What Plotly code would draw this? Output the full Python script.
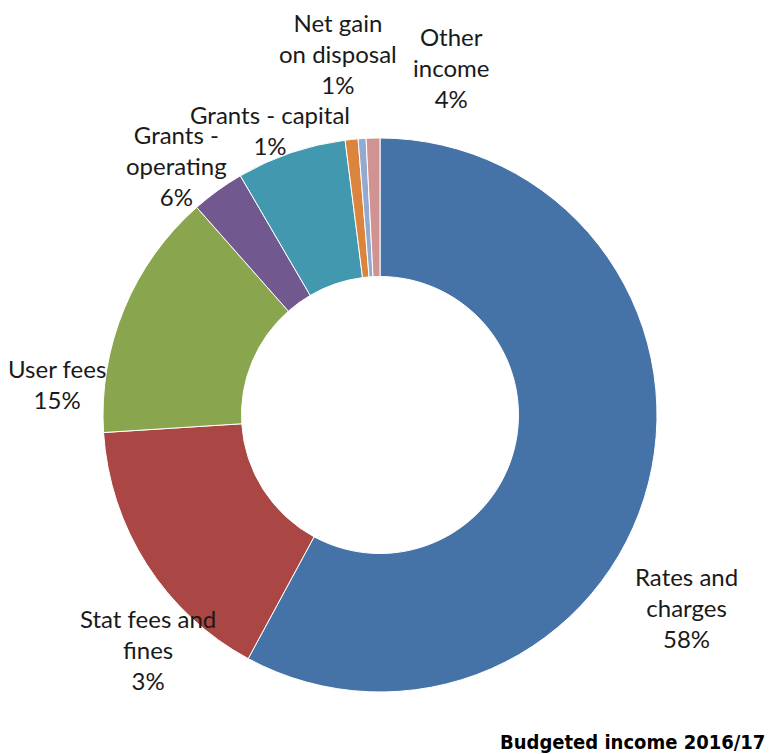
import plotly.graph_objects as go

W, H = 772, 754

# Slice data (clockwise from 12 o'clock) (%)
categories = ["Rates and charges", "Stat fees and fines", "User fees", "Grants - operating",
              "Grants - capital", "Net gain on disposal", "Other", "Other income"]
values = [57.9, 16.1, 14.5, 3.1, 6.4, 0.75, 0.46, 0.8]
colors = ["#4572A7", "#AA4643", "#89A54E", "#71588F", "#4198AF", "#DB843D", "#93A9CF", "#D19392"]

# Data labels as displayed in the reference
label_texts = ["Rates and<br>charges<br>58%", "Stat fees and<br>fines<br>3%", "User fees<br>15%",
               "Grants -<br>operating<br>6%", "Grants - capital<br>1%",
               "Net gain<br>on disposal<br>1%", "Other<br>income<br>4%"]
# label centres in pixels (x, y from top)
label_pos = [(686, 607), (148, 649), (57, 384), (176, 165), (270, 130), (338, 54), (451, 67)]

title_text = "<b>Budgeted income 2016/17</b>"

cx, cy, r = 380, 415, 277

fig = go.Figure(go.Pie(
    labels=categories, values=values, sort=False, direction="clockwise", rotation=0,
    hole=0.5, textinfo="none", hoverinfo="label+percent",
    marker=dict(colors=colors, line=dict(color="white", width=1)),
    domain=dict(x=[(cx - r) / W, (cx + r) / W], y=[(H - cy - r) / H, (H - cy + r) / H]),
    showlegend=False,
))

for t, (px, py) in zip(label_texts, label_pos):
    fig.add_annotation(x=px / W, y=1 - py / H, xref="paper", yref="paper", text=t,
                       showarrow=False, xanchor="center", yanchor="middle", align="center",
                       font=dict(family="Lato", size=24, color="#1a1a1a"))

fig.add_annotation(x=767 / W, y=1 - 742 / H, xref="paper", yref="paper", text=title_text,
                   showarrow=False, xanchor="right", yanchor="middle",
                   font=dict(family="DejaVu Sans Condensed, Liberation Sans", size=20, color="#000000"))

fig.update_layout(width=W, height=H, margin=dict(l=0, r=0, t=0, b=0),
                  paper_bgcolor="white", plot_bgcolor="white")

fig.write_html("out.html")
